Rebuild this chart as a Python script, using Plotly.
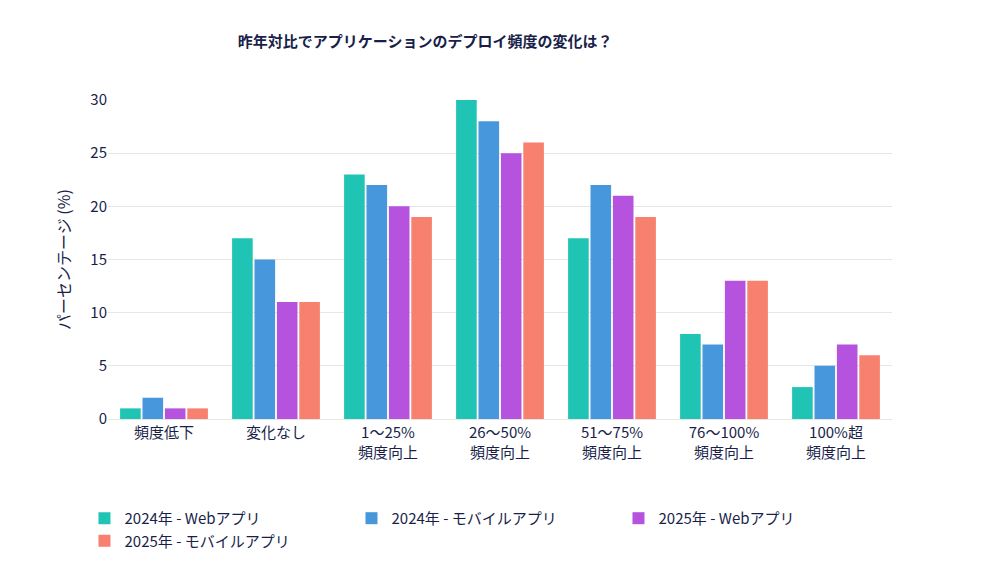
import plotly.graph_objects as go

categories = ["頻度低下", "変化なし", "1～25%<br>頻度向上", "26～50%<br>頻度向上", "51～75%<br>頻度向上", "76～100%<br>頻度向上", "100%超<br>頻度向上"]
series_names = ["2024年 - Webアプリ", "2024年 - モバイルアプリ", "2025年 - Webアプリ", "2025年 - モバイルアプリ"]
web2024 = [1, 17, 23, 30, 17, 8, 3]
mob2024 = [2, 15, 22, 28, 22, 7, 5]
web2025 = [1, 11, 20, 25, 21, 13, 7]
mob2025 = [1, 11, 19, 26, 19, 13, 6]
colors = ["#20c4b4", "#4697dc", "#b653de", "#f7806e"]

fig = go.Figure()
for name, vals, c in zip(series_names, [web2024, mob2024, web2025, mob2025], colors):
    fig.add_trace(go.Bar(name=name, x=categories, y=vals, marker=dict(color=c, line=dict(width=0))))

fig.update_layout(
    width=999, height=561, plot_bgcolor="white", paper_bgcolor="white",
    font=dict(family="Noto Sans CJK JP", color="#1a1f4a", size=14),
    title=dict(text="<b>昨年対比でアプリケーションのデプロイ頻度の変化は？</b>", x=0.23, y=0.95, font=dict(size=15)),
    margin=dict(l=100, r=115, t=92, b=146),
    barmode="group", bargap=0.2, bargroupgap=0.08,
    yaxis=dict(range=[0, 30], dtick=5, gridcolor="#e6e6e6", zeroline=False,
               title=dict(text="パーセンテージ (%)", font=dict(size=16)), ticks="", showline=False,
               tickfont=dict(size=15)),
    xaxis=dict(showline=True, linecolor="#e6e6e6", tickfont=dict(size=15)),
    legend=dict(orientation="h", x=-0.03, xanchor="left", y=-0.26, yanchor="top",
                font=dict(size=15), entrywidth=222, entrywidthmode="pixels"),
)
fig.write_html("out.html")
